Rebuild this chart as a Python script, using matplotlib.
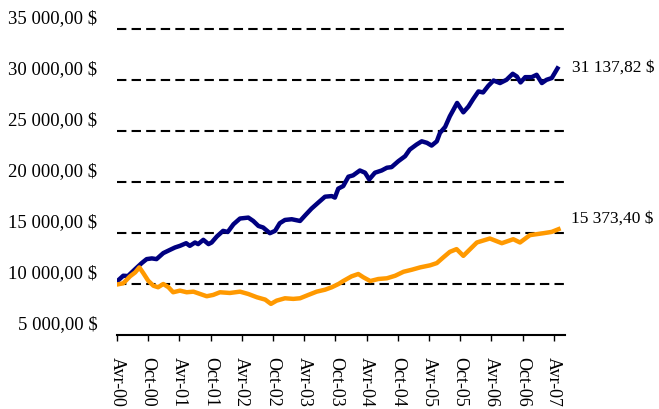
import matplotlib.pyplot as plt
from matplotlib.transforms import ScaledTranslation

# months counted from April 2000, values in dollars
tick_months = list(range(0, 85, 6))
tick_labels = ["Avr-00", "Oct-00", "Avr-01", "Oct-01", "Avr-02", "Oct-02", "Avr-03",
               "Oct-03", "Avr-04", "Oct-04", "Avr-05", "Oct-05", "Avr-06", "Oct-06", "Avr-07"]
y_ticks = [5000, 10000, 15000, 20000, 25000, 30000, 35000]

blue_months = [0, 1.2, 2.1, 3.5, 4.75, 5.7, 6.7, 7.6, 8.9, 10.2, 11.15, 12.1, 13.3, 14.0,
               15.0, 15.6, 16.6, 17.6, 18.2, 19.2, 20.4, 21.3, 22.4, 23.65, 25.25, 26.2,
               27.2, 28.1, 29.4, 30.4, 31.3, 32.3, 33.6, 35.2, 36.2, 37.4, 38.7, 40.0,
               41.3, 41.9, 42.55, 43.5, 44.5, 45.4, 46.7, 47.7, 48.5, 49.6, 50.9, 51.9,
               52.8, 54.1, 55.4, 56.3, 57.6, 58.6, 59.6, 60.5, 61.5, 62.1, 63.1, 64.0,
               64.7, 65.4, 66.6, 67.6, 68.5, 69.5, 70.4, 71.4, 72.4, 73.65, 74.9, 76.1,
               76.9, 77.6, 78.5, 79.75, 80.7, 81.7, 82.6, 83.6, 84.7]
blue_values = [10250, 10810, 10780, 11460, 12050, 12440, 12510, 12440, 13030, 13350, 13580,
               13740, 14000, 13740, 14070, 13910, 14330, 13910, 14070, 14660, 15210, 15100,
               15860, 16420, 16510, 16180, 15690, 15540, 14980, 15210, 15960, 16280, 16350,
               16180, 16740, 17390, 17980, 18560, 18620, 18470, 19350, 19600, 20520, 20650,
               21130, 20910, 20250, 20910, 21130, 21400, 21460, 22040, 22530, 23180, 23670,
               23990, 23840, 23570, 23990, 24810, 25400, 26440, 27090, 27750, 26830, 27410,
               28140, 28880, 28780, 29430, 29950, 29700, 30020, 30610, 30340, 29760, 30280,
               30280, 30510, 29700, 30020, 30190, 31137.82]

orange_months = [0, 1.2, 2.5, 3.5, 4.3, 5.05, 6.0, 7.0, 7.9, 8.9, 9.9, 10.8, 12.1, 13.4,
                 14.7, 16.0, 17.25, 18.5, 19.8, 21.7, 23.65, 25.25, 26.9, 28.5, 29.6, 30.7,
                 32.3, 33.9, 35.2, 36.8, 38.4, 40.0, 41.3, 42.6, 43.5, 45.1, 46.4, 47.4,
                 48.7, 50.25, 51.9, 53.5, 55.1, 56.7, 58.3, 60.2, 61.5, 62.75, 64.0, 65.3,
                 66.6, 69.2, 71.7, 74.0, 76.2, 77.5, 79.4, 82.0, 83.6, 84.9]
orange_values = [9950, 10070, 10750, 11140, 11630, 11070, 10320, 9830, 9680, 10000, 9680,
                 9190, 9350, 9190, 9250, 9020, 8800, 8930, 9190, 9120, 9250, 9020, 8700,
                 8470, 8050, 8370, 8600, 8540, 8600, 8930, 9250, 9440, 9680, 10000, 10290,
                 10750, 10980, 10650, 10290, 10490, 10560, 10810, 11200, 11400, 11630, 11830,
                 12050, 12610, 13150, 13420, 12760, 14070, 14460, 14000, 14390, 14070, 14790,
                 14980, 15110, 15373.40]


def money(v):
    return "{:,.2f}".format(v).replace(",", " ").replace(".", ",") + " $"


plt.rcParams["font.family"] = "Liberation Serif"

fig = plt.figure(figsize=(6.59, 4.09), dpi=100)
ax = fig.add_axes([117 / 659, 1 - 335 / 409, 448 / 659, 306 / 409])

ax.plot(blue_months, blue_values, color="#000080", lw=3.2, solid_joinstyle="round", zorder=3)
ax.plot(orange_months, orange_values, color="#FF9900", lw=3.2, solid_joinstyle="round", zorder=3)

for v in y_ticks[1:]:
    ax.axhline(v, color="black", lw=1.5, dashes=(4.5, 2.5), zorder=1, clip_on=False)

ax.set_xlim(0, 86.15)
ax.set_ylim(5000, 35000)

ax.set_xticks(tick_months)
ax.set_xticklabels(tick_labels, rotation=-90, fontsize=13)
ax.tick_params(axis="x", direction="out", length=4.5, width=1, pad=11)

ax.set_yticks(y_ticks)
ax.set_yticklabels([money(v) for v in y_ticks], fontsize=13.5)
ax.tick_params(axis="y", length=0, pad=14)
# labels sit a little above their gridlines in the original
shift = ScaledTranslation(0, 12.5 / 100, fig.dpi_scale_trans)
for lab in ax.get_yticklabels():
    lab.set_transform(lab.get_transform() + shift)

for s in ["left", "right", "top"]:
    ax.spines[s].set_visible(False)
ax.spines["bottom"].set_linewidth(1.5)

ax.annotate(money(blue_values[-1]), (blue_months[-1], blue_values[-1]),
            xytext=(15, 1), textcoords="offset pixels", va="center", ha="left",
            fontsize=12.5, annotation_clip=False)
ax.annotate(money(orange_values[-1]), (orange_months[-1], orange_values[-1]),
            xytext=(13, 11), textcoords="offset pixels", va="center", ha="left",
            fontsize=12.5, annotation_clip=False)

fig.savefig("out.png", dpi=100, facecolor="white")
